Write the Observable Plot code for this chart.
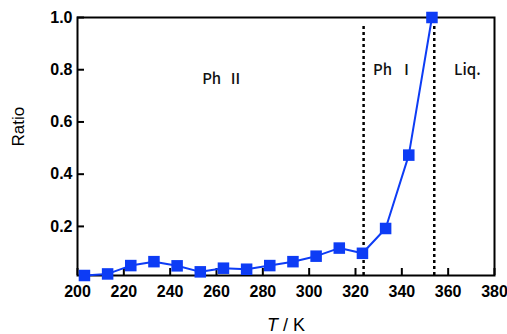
<!DOCTYPE html>
<html>
<head>
<meta charset="utf-8">
<script src="https://cdn.jsdelivr.net/npm/d3@7"></script>
<script src="https://cdn.jsdelivr.net/npm/@observablehq/plot@0.6"></script>
<style>
  html, body { margin: 0; padding: 0; background: #fff; }
  #chart svg { display: block; }
</style>
</head>
<body>
<div id="chart"></div>
<script>
const temperatures = [203, 213, 223, 233, 243, 253, 263, 273, 283, 293, 303, 313, 323, 333, 343, 353];
const ratios = [0.012, 0.018, 0.050, 0.065, 0.049, 0.026, 0.040, 0.036, 0.050, 0.065, 0.086, 0.117, 0.097, 0.192, 0.473, 1.000];
const transitions = [323.5, 354];
const xTicks = [200, 220, 240, 260, 280, 300, 320, 340, 360, 380];
const yTicks = [0.2, 0.4, 0.6, 0.8, 1.0];
const phaseLabels = ["Ph  Ⅱ", "Ph  Ⅰ", "Liq."];
const phaseX = [262.6, 336.4, 368.3];
const phaseY = [0.765, 0.80, 0.80];

const data = temperatures.map((t, i) => ({t, r: ratios[i]}));
const phases = phaseLabels.map((s, i) => ({s, x: phaseX[i], y: phaseY[i]}));
const yMin = 0.012;

const blue = "#0d3cf5";
const font = "'Liberation Sans', Arial, sans-serif";

const chart = Plot.plot({
  width: 507,
  height: 334,
  marginLeft: 77,
  marginRight: 13,
  marginTop: 17,
  marginBottom: 59,
  style: {fontFamily: font, color: "#000", background: "#fff"},
  x: {domain: [200, 380], ticks: xTicks},
  y: {domain: [yMin, 1.0], ticks: yTicks},
  marks: [
    Plot.axisX({ticks: xTicks, tickSize: 0, tickPadding: 10, label: null, fontWeight: "bold"}),
    Plot.axisX({ticks: xTicks, tickSize: 7, dy: -7, text: null, strokeWidth: 2, label: null}),
    Plot.axisY({ticks: yTicks, tickSize: 0, tickPadding: 5, tickFormat: d3.format(".1f"), label: null, fontWeight: "bold"}),
    Plot.axisY({ticks: yTicks, tickSize: 7, dx: 7, text: null, strokeWidth: 2, label: null}),
    Plot.frame({stroke: "#000", strokeWidth: 2}),
    Plot.ruleX(transitions, {y1: yMin, y2: 0.975, stroke: "#000", strokeWidth: 2.5, strokeDasharray: "3,3"}),
    Plot.line(data, {x: "t", y: "r", stroke: blue, strokeWidth: 2}),
    Plot.dot(data, {x: "t", y: "r", symbol: "square", r: 6.5, fill: blue, stroke: "none"}),
    Plot.text(phases, {x: "x", y: "y", text: "s", fontFamily: "'Noto Sans CJK JP', 'DejaVu Sans', sans-serif", fill: "#111"}),
    Plot.text(["Ratio"], {frameAnchor: "left", rotate: -90, dx: -59, text: d => d}),
    Plot.text(["T / K"], {frameAnchor: "bottom", x: 290, dy: 55, text: d => d})
  ]
});

document.getElementById("chart").appendChild(chart);

const svg = d3.select(chart);
svg.selectAll('[aria-label="x-axis tick label"], [aria-label="y-axis tick label"]')
  .style("font-size", "16px").style("font-weight", "bold");

svg.selectAll("text").each(function() {
  const s = this.textContent;
  const t = d3.select(this);
  if (phaseLabels.includes(s)) {
    t.style("font-size", "15px").style("font-weight", "500");
  } else if (s === "Ratio") {
    t.style("font-size", "17px");
  } else if (s === "T / K") {
    t.style("font-size", "18px");
    t.text(null);
    t.append("tspan").style("font-style", "italic").text("T");
    t.append("tspan").text(" / K");
  }
});
</script>
</body>
</html>
